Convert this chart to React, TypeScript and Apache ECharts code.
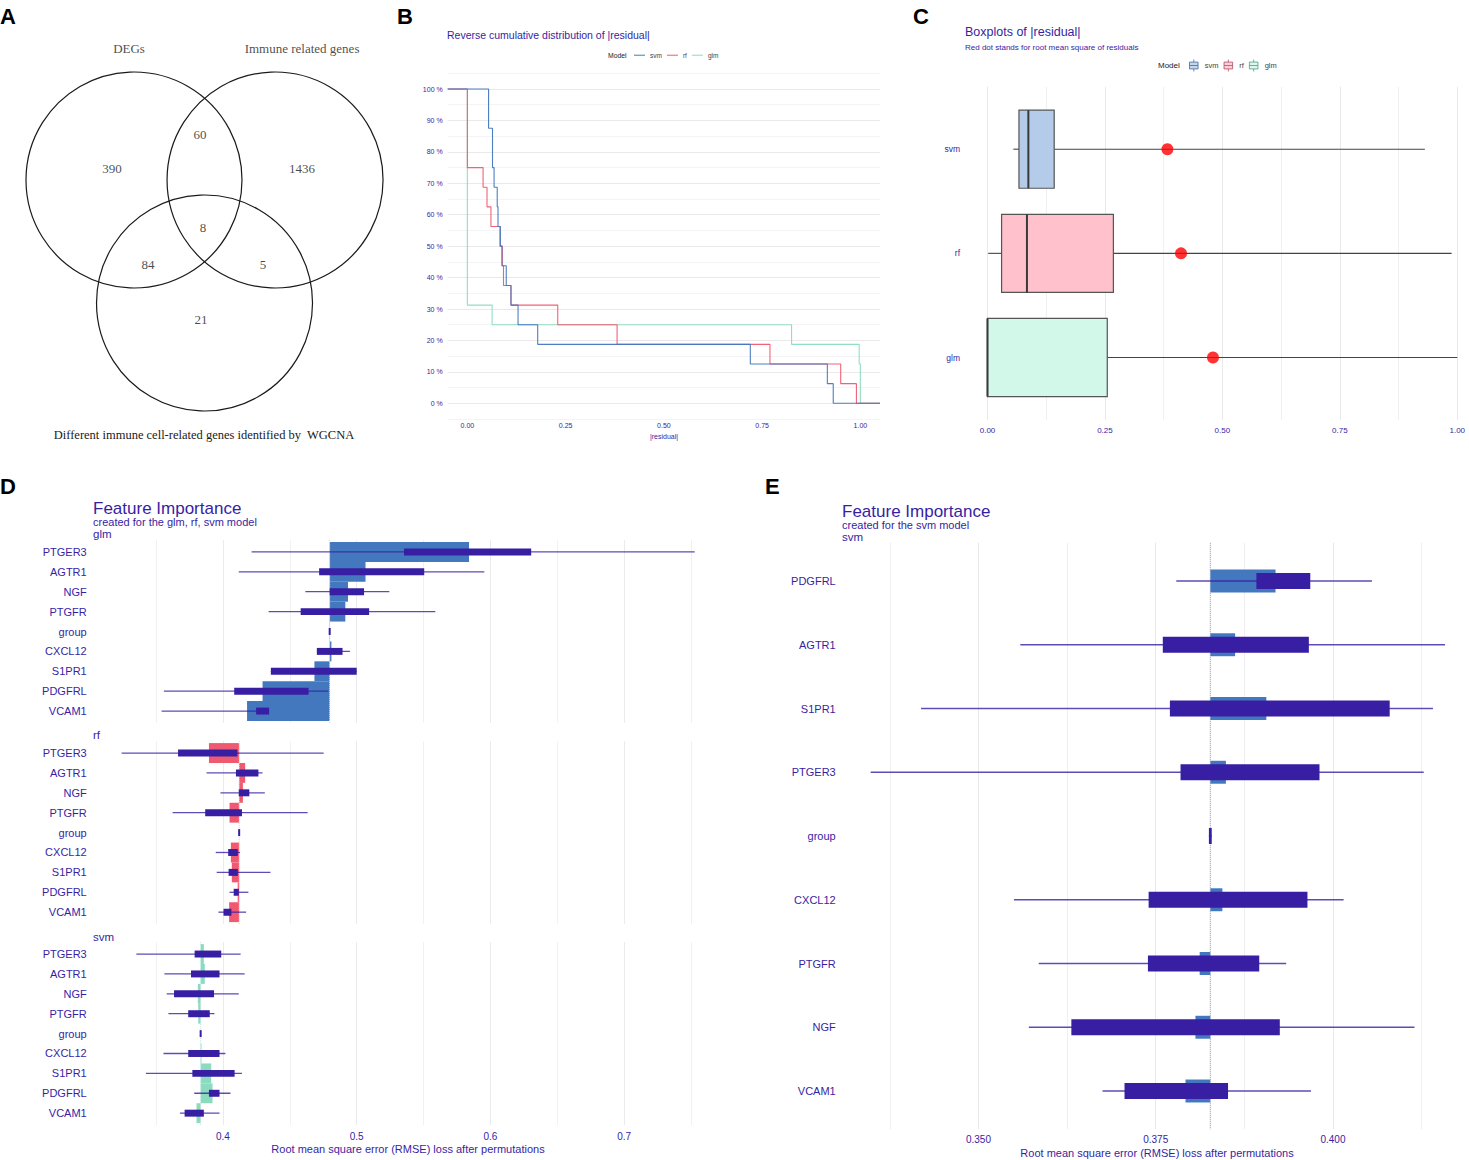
import React, { useEffect, useRef } from "react";
import * as echarts from "echarts";

const PURPLE = "#371ea3";
const SANS = '"Liberation Sans", Arial, Helvetica, sans-serif';
const SERIF = '"Liberation Serif", "Times New Roman", serif';
const T = "rgba(0,0,0,0)";

// ---------------- Panel A : Venn diagram ----------------
const vennSetNames = ["DEGs", "Immune related genes"];
const vennSetNameX = [-0.046, 1.556];
const vennSetNameY = [-1.222, -1.222];
const vennCircleX = [0, 1.306, 0.653];
const vennCircleY = [0, 0, 1.139];
const vennCircleR = [1, 1, 1];
const vennCounts = [390, 60, 1436, 8, 84, 5, 21];
const vennCountX = [-0.204, 0.611, 1.556, 0.639, 0.13, 1.194, 0.62];
const vennCountY = [-0.111, -0.417, -0.111, 0.444, 0.778, 0.778, 1.296];

// ---------------- Panel B : reverse ECDF ----------------
const models = ["svm", "rf", "glm"];
const modelColors = ["#4378bf", "#f05a71", "#8bdcbe"];
const ecdfSvmX = [-0.05, 0.054, 0.064, 0.068, 0.076, 0.078, 0.084, 0.088, 0.099, 0.111, 0.129, 0.179, 0.72, 0.916, 0.931, 1.05];
const ecdfSvmY = [100, 87.5, 75, 68.75, 62.5, 56.25, 50, 43.75, 37.5, 31.25, 25, 18.75, 12.5, 6.25, 0, 0];
const ecdfRfX = [-0.05, 0, 0.04, 0.05, 0.06, 0.083, 0.089, 0.092, 0.111, 0.23, 0.381, 0.77, 0.95, 0.99, 1.05];
const ecdfRfY = [100, 75, 68.75, 62.5, 56.25, 50, 43.75, 37.5, 31.25, 25, 18.75, 12.5, 6.25, 0, 0];
const ecdfGlmX = [-0.05, 0, 0.063, 0.825, 0.997, 1.0, 1.05];
const ecdfGlmY = [100, 31.25, 25, 18.75, 12.5, 0, 0];

// ---------------- Panel C : boxplots of |residual| ----------------
const boxMin = [0.055, 0.0015, 0];
const boxQ1 = [0.067, 0.03, 0];
const boxMed = [0.087, 0.084, 0];
const boxQ3 = [0.142, 0.268, 0.255];
const boxMax = [0.931, 0.988, 1.0];
const rmse = [0.383, 0.412, 0.48];
const boxFills = ["#b5cbea", "#ffc1cb", "#d2f8ea"];
const legendBorders = ["#4a6a9a", "#b0506a", "#4f9c82"];

// ---------------- Panel D : feature importance (3 models) ----------------
const dVars = ["PTGER3", "AGTR1", "NGF", "PTGFR", "group", "CXCL12", "S1PR1", "PDGFRL", "VCAM1"];
const glmBase = 0.4798;
const glmMean = [0.584, 0.5066, 0.4935, 0.4915, 0.48, 0.4811, 0.4684, 0.4296, 0.418];
const glmQ1 = [0.5354, 0.4719, 0.4798, 0.4581, 0.4796, 0.4702, 0.4358, 0.4084, 0.4248];
const glmQ3 = [0.6305, 0.5505, 0.5055, 0.5093, 0.48, 0.4894, 0.5, 0.464, 0.4345];
const glmMin = [0.4214, 0.4118, 0.4616, 0.4341, 0.4796, 0.4702, 0.4358, 0.3558, 0.3541];
const glmMax = [0.7528, 0.5955, 0.5244, 0.5588, 0.48, 0.4949, 0.5, 0.4788, 0.4345];

const rfBase = 0.4121;
const rfMean = [0.3895, 0.4166, 0.4149, 0.4049, 0.4121, 0.4059, 0.4066, 0.411, 0.4046];
const rfQ1 = [0.3664, 0.4097, 0.4118, 0.3867, 0.4119, 0.4039, 0.4042, 0.408, 0.4004];
const rfQ3 = [0.4108, 0.4265, 0.4197, 0.4142, 0.4123, 0.4111, 0.4111, 0.4118, 0.4063];
const rfMin = [0.3242, 0.3877, 0.3981, 0.3623, 0.4119, 0.3946, 0.3953, 0.4049, 0.3966];
const rfMax = [0.4753, 0.4296, 0.4313, 0.4633, 0.4123, 0.4128, 0.4355, 0.419, 0.4173];

const svmBase = 0.3833;
const svmMean = [0.3857, 0.3864, 0.3812, 0.3815, 0.3833, 0.3839, 0.3912, 0.3922, 0.3802];
const svmQ1 = [0.3788, 0.3761, 0.3634, 0.374, 0.3831, 0.374, 0.3771, 0.3895, 0.3713];
const svmQ3 = [0.3987, 0.3974, 0.3933, 0.3901, 0.3835, 0.3974, 0.4087, 0.3974, 0.3857];
const svmMin = [0.3352, 0.3562, 0.3579, 0.3592, 0.3831, 0.3555, 0.3424, 0.3785, 0.3678];
const svmMax = [0.4132, 0.4162, 0.4118, 0.3936, 0.3835, 0.4018, 0.4142, 0.4056, 0.3974];

// ---------------- Panel E : feature importance (svm) ----------------
const eVars = ["PDGFRL", "AGTR1", "S1PR1", "PTGER3", "group", "CXCL12", "PTGFR", "NGF", "VCAM1"];
const eBase = 0.3827;
const eMean = [0.3919, 0.3862, 0.3906, 0.3849, 0.3827, 0.3844, 0.3812, 0.3806, 0.3792];
const eQ1 = [0.3892, 0.376, 0.377, 0.3785, 0.3825, 0.374, 0.3739, 0.3631, 0.3706];
const eQ3 = [0.3968, 0.3966, 0.408, 0.3981, 0.3829, 0.3964, 0.3896, 0.3925, 0.3852];
const eMin = [0.3779, 0.3559, 0.3419, 0.3348, 0.3825, 0.355, 0.3585, 0.3571, 0.3675];
const eMax = [0.4055, 0.4158, 0.4141, 0.4128, 0.3829, 0.4015, 0.3934, 0.4115, 0.3969];

// ---------------- helpers ----------------
function catFormatter(names: string[]) {
  return (v: number) => {
    const r = Math.round(v);
    return Math.abs(v - r) < 1e-6 && r >= 0 && r < names.length ? names[r] : "";
  };
}
function stepFormatter(step: number, lo: number, hi: number, digits: number, suffix = "") {
  return (v: number) => {
    const q = v / step;
    const r = Math.round(q);
    if (Math.abs(q - r) < 1e-6) {
      const val = r * step;
      if (val >= lo - 1e-9 && val <= hi + 1e-9) return val.toFixed(digits) + suffix;
    }
    return "";
  };
}

function txt(x: number, y: number, text: string, size: number, fill: string, opts: any = {}) {
  const align = opts.align || "left";
  return {
    type: "text",
    x,
    y,
    silent: true,
    style: {
      text,
      fontSize: size,
      fontFamily: opts.family || SANS,
      fontWeight: opts.weight || "normal",
      fill,
      textAlign: align,
      align,
      textVerticalAlign: "middle",
      verticalAlign: "middle",
    },
  };
}

function fiSeries(
  axisIdx: number,
  n: number,
  mean: number[],
  q1: number[],
  q3: number[],
  mn: number[],
  mx: number[],
  base: number,
  color: string,
  barFrac: number,
  boxFrac: number,
  whiskerW: number,
  baseColor: string
) {
  const data = mean.map((m, i) => [m, i, q1[i], q3[i], mn[i], mx[i]]);
  return [
    {
      type: "custom",
      xAxisIndex: axisIdx,
      yAxisIndex: axisIdx,
      data,
      encode: { x: 0, y: 1 },
      z: 2,
      silent: true,
      renderItem: (_p: any, api: any) => {
        const i = api.value(1);
        const p0 = api.coord([base, i]);
        const p1 = api.coord([api.value(0), i]);
        const h = api.size([0, 1])[1] * barFrac;
        return {
          type: "rect",
          shape: {
            x: Math.min(p0[0], p1[0]),
            y: p0[1] - h / 2,
            width: Math.max(Math.abs(p1[0] - p0[0]), 0.01),
            height: h,
          },
          style: { fill: color },
        };
      },
    },
    {
      type: "line",
      xAxisIndex: axisIdx,
      yAxisIndex: axisIdx,
      data: [
        [base, -0.6],
        [base, n - 0.4],
      ],
      symbol: "none",
      silent: true,
      z: 3,
      lineStyle: { type: "dotted", color: baseColor, width: 1 },
    },
    {
      type: "custom",
      xAxisIndex: axisIdx,
      yAxisIndex: axisIdx,
      data,
      encode: { x: [2, 3, 4, 5], y: 1 },
      z: 4,
      silent: true,
      renderItem: (_p: any, api: any) => {
        const i = api.value(1);
        const a = api.coord([api.value(2), i]);
        const b = api.coord([api.value(3), i]);
        const lo = api.coord([api.value(4), i]);
        const hi = api.coord([api.value(5), i]);
        const h = api.size([0, 1])[1] * boxFrac;
        const raw = b[0] - a[0];
        const w = Math.max(raw, 2);
        return {
          type: "group",
          children: [
            {
              type: "line",
              shape: { x1: lo[0], y1: lo[1], x2: hi[0], y2: hi[1] },
              style: { stroke: PURPLE, lineWidth: whiskerW, opacity: 0.8 },
            },
            {
              type: "rect",
              shape: { x: a[0] - (w - raw) / 2, y: a[1] - h / 2, width: w, height: h },
              style: { fill: PURPLE },
            },
          ],
        };
      },
    },
  ];
}

function buildOption() {
  const grids = [
    { left: 0, top: 0, width: 400, height: 450 }, // A
    { left: 447.7, top: 73.3, width: 432.3, height: 345.7 }, // B
    { left: 964, top: 86.7, width: 505, height: 333.3 }, // C
    { left: 122.7, top: 540, width: 601.7, height: 183 }, // D glm
    { left: 122.7, top: 741.1, width: 601.7, height: 183 }, // D rf
    { left: 122.7, top: 942.1, width: 601.7, height: 183 }, // D svm
    { left: 867.7, top: 542.75, width: 598.2, height: 586.5 }, // E
  ].map((g) => ({ ...g, containLabel: false, outerBoundsMode: "none", show: false }));

  const noAxis = { axisLine: { show: false }, axisTick: { show: false } };
  const dX = (idx: number, showLabels: boolean) => ({
    gridIndex: idx,
    type: "value",
    min: 0.325,
    max: 0.775,
    interval: 0.025,
    ...noAxis,
    axisLabel: {
      show: showLabels,
      formatter: stepFormatter(0.1, 0.4, 0.7, 1),
      fontSize: 10,
      color: PURPLE,
      margin: 6,
      fontFamily: SANS,
    },
    splitLine: { show: true, lineStyle: { color: [T, "#f1f1f3", T, "#ebebee"], width: 1 } },
  });
  const dY = (idx: number) => ({
    gridIndex: idx,
    type: "value",
    min: -0.6,
    max: 8.6,
    interval: 0.2,
    inverse: true,
    ...noAxis,
    splitLine: { show: false },
    axisLabel: { formatter: catFormatter(dVars), fontSize: 11, color: PURPLE, margin: 36, fontFamily: SANS },
  });

  const xAxis: any[] = [
    { gridIndex: 0, type: "value", min: -1.2407, max: 2.463, show: false },
    {
      gridIndex: 1,
      type: "value",
      min: -0.05,
      max: 1.05,
      interval: 0.05,
      ...noAxis,
      splitLine: { show: false },
      axisLabel: { formatter: stepFormatter(0.25, 0, 1, 2), fontSize: 7, color: PURPLE, margin: 3, fontFamily: SANS },
    },
    {
      gridIndex: 2,
      type: "value",
      min: -0.05,
      max: 1.025,
      interval: 0.025,
      ...noAxis,
      splitLine: {
        show: true,
        lineStyle: { color: [T, T, "#e9e9e9", T, T, T, T, "#f0f0f0", T, T], width: 1 },
      },
      axisLabel: { formatter: stepFormatter(0.25, 0, 1, 2), fontSize: 8, color: PURPLE, margin: 6, fontFamily: SANS },
    },
    dX(3, false),
    dX(4, false),
    dX(5, true),
    {
      gridIndex: 6,
      type: "value",
      min: 0.334375,
      max: 0.41875,
      interval: 0.003125,
      ...noAxis,
      splitLine: {
        show: true,
        lineStyle: { color: [T, "#efeff2", T, T, T, "#e8e8ec", T, T], width: 1 },
      },
      axisLabel: { formatter: stepFormatter(0.025, 0.35, 0.4, 3), fontSize: 10, color: PURPLE, margin: 5, fontFamily: SANS },
    },
  ];

  const yAxis: any[] = [
    { gridIndex: 0, type: "value", min: -1.6667, max: 2.5, inverse: true, show: false },
    {
      gridIndex: 1,
      type: "value",
      min: -5,
      max: 105,
      interval: 5,
      ...noAxis,
      splitLine: { show: true, lineStyle: { color: ["#f4f4f4", "#e9e9e9"], width: 1 } },
      axisLabel: { formatter: stepFormatter(10, 0, 100, 0, " %"), fontSize: 7, color: PURPLE, margin: 5, fontFamily: SANS },
    },
    {
      gridIndex: 2,
      type: "value",
      min: -0.6,
      max: 2.6,
      interval: 0.2,
      inverse: true,
      ...noAxis,
      splitLine: { show: false },
      axisLabel: { formatter: catFormatter(models), fontSize: 8.5, color: PURPLE, margin: 4, fontFamily: SANS },
    },
    dY(3),
    dY(4),
    dY(5),
    {
      gridIndex: 6,
      type: "value",
      min: -0.6,
      max: 8.6,
      interval: 0.2,
      inverse: true,
      ...noAxis,
      splitLine: { show: false },
      axisLabel: { formatter: catFormatter(eVars), fontSize: 11, color: PURPLE, margin: 32, fontFamily: SANS },
    },
  ];

  const series: any[] = [];

  const vennLabel = {
    show: true,
    position: "inside",
    formatter: "{b}",
    fontFamily: SERIF,
    fontSize: 13,
    color: "#1a1a1a",
    textBorderWidth: 0,
    textBorderColor: T,
    textShadowBlur: 0,
  };

  // A: circles
  series.push({
    type: "custom",
    xAxisIndex: 0,
    yAxisIndex: 0,
    silent: true,
    data: vennCircleX.map((x, i) => [x, vennCircleY[i], vennCircleR[i]]),
    encode: { x: 0, y: 1 },
    renderItem: (_p: any, api: any) => {
      const c = api.coord([api.value(0), api.value(1)]);
      const r = api.size([api.value(2), 0])[0];
      return {
        type: "circle",
        shape: { cx: c[0], cy: c[1], r },
        style: { fill: "none", stroke: "#1a1a1a", lineWidth: 1.2 },
      };
    },
  });
  // A: count labels
  series.push({
    type: "scatter",
    xAxisIndex: 0,
    yAxisIndex: 0,
    silent: true,
    symbolSize: 1,
    itemStyle: { color: T },
    data: vennCounts.map((c, i) => ({ name: String(c), value: [vennCountX[i], vennCountY[i]] })),
    label: vennLabel,
  });
  // A: set names
  series.push({
    type: "scatter",
    xAxisIndex: 0,
    yAxisIndex: 0,
    silent: true,
    symbolSize: 1,
    itemStyle: { color: T },
    data: vennSetNames.map((s, i) => ({ name: s, value: [vennSetNameX[i], vennSetNameY[i]] })),
    label: vennLabel,
  });

  // B: reverse ecdf lines
  const ecdf = [
    [ecdfSvmX, ecdfSvmY],
    [ecdfRfX, ecdfRfY],
    [ecdfGlmX, ecdfGlmY],
  ];
  ecdf.forEach(([xs, ys], k) => {
    series.push({
      type: "line",
      name: models[k],
      xAxisIndex: 1,
      yAxisIndex: 1,
      step: "end",
      symbol: "none",
      silent: true,
      z: 5 - k,
      itemStyle: { color: modelColors[k] },
      lineStyle: { color: modelColors[k], width: 1.1, opacity: 0.95 },
      data: xs.map((x, i) => [x, ys[i]]),
    });
  });

  // C: boxplots
  series.push({
    type: "custom",
    xAxisIndex: 2,
    yAxisIndex: 2,
    silent: true,
    z: 2,
    data: models.map((_m, i) => [i, boxMin[i], boxQ1[i], boxMed[i], boxQ3[i], boxMax[i]]),
    encode: { x: [1, 2, 3, 4, 5], y: 0 },
    renderItem: (_p: any, api: any) => {
      const i = api.value(0);
      const y = api.coord([0, i])[1];
      const X = (d: number) => api.coord([api.value(d), i])[0];
      const h = api.size([0, 1])[1] * 0.75;
      const fill = boxFills[Math.round(i)];
      return {
        type: "group",
        children: [
          { type: "line", shape: { x1: X(1), y1: y, x2: X(2), y2: y }, style: { stroke: "#444", lineWidth: 1.1 } },
          { type: "line", shape: { x1: X(4), y1: y, x2: X(5), y2: y }, style: { stroke: "#444", lineWidth: 1.1 } },
          {
            type: "rect",
            shape: { x: X(2), y: y - h / 2, width: Math.max(X(4) - X(2), 0.5), height: h },
            style: { fill, stroke: "#555", lineWidth: 1.2 },
          },
          {
            type: "line",
            shape: { x1: X(3), y1: y - h / 2, x2: X(3), y2: y + h / 2 },
            style: { stroke: "#3a3a3a", lineWidth: 2 },
          },
        ],
      };
    },
  });
  series.push({
    type: "scatter",
    xAxisIndex: 2,
    yAxisIndex: 2,
    silent: true,
    z: 6,
    symbolSize: 12,
    itemStyle: { color: "#ff0000" },
    data: models.map((_m, i) => [rmse[i], i]),
  });
  // C: legend holders
  models.forEach((m, k) => {
    series.push({
      type: "scatter",
      name: "C " + m,
      xAxisIndex: 2,
      yAxisIndex: 2,
      data: [],
      itemStyle: { color: boxFills[k], borderColor: legendBorders[k], borderWidth: 1 },
    });
  });

  // D facets
  series.push(...fiSeries(3, dVars.length, glmMean, glmQ1, glmQ3, glmMin, glmMax, glmBase, "#4378bf", 1.0, 0.35, 1.3, "#c9d3ee"));
  series.push(...fiSeries(4, dVars.length, rfMean, rfQ1, rfQ3, rfMin, rfMax, rfBase, "#f05a71", 1.0, 0.35, 1.3, "#e3c8e0"));
  series.push(...fiSeries(5, dVars.length, svmMean, svmQ1, svmQ3, svmMin, svmMax, svmBase, "#8bdcbe", 1.0, 0.35, 1.3, "#c4e6dc"));
  // E
  series.push(...fiSeries(6, eVars.length, eMean, eQ1, eQ3, eMin, eMax, eBase, "#4378bf", 0.36, 0.25, 1.6, "#8f8fa6"));

  const legend = [
    {
      left: 634,
      top: 51.7,
      padding: 0,
      orient: "horizontal",
      selectedMode: false,
      icon: "rect",
      itemWidth: 11,
      itemHeight: 1,
      itemGap: 5,
      textStyle: { fontSize: 6.5, color: "#444", fontFamily: SANS },
      data: models.map((m, k) => ({ name: m, itemStyle: { color: modelColors[k] } })),
    },
    {
      left: 1189,
      top: 59,
      padding: 0,
      orient: "horizontal",
      selectedMode: false,
      icon: "path://M1,3 L11,3 L11,11 L1,11 Z M1,7 L11,7 M6,0 L6,3 M6,11 L6,14",
      itemWidth: 12,
      itemHeight: 12,
      itemGap: 5,
      formatter: (name: string) => name.replace(/^C /, ""),
      textStyle: { fontSize: 7.5, color: "#444", fontFamily: SANS },
      data: models.map((m, k) => ({
        name: "C " + m,
        itemStyle: { color: boxFills[k], borderColor: legendBorders[k], borderWidth: 1 },
      })),
    },
  ];

  const graphic = [
    // panel letters
    txt(0, 16, "A", 22, "#000", { weight: "bold" }),
    txt(397, 16, "B", 22, "#000", { weight: "bold" }),
    txt(913, 16, "C", 22, "#000", { weight: "bold" }),
    txt(0, 486, "D", 22, "#000", { weight: "bold" }),
    txt(765, 486, "E", 22, "#000", { weight: "bold" }),
    // A caption
    txt(204, 435, "Different immune cell-related genes identified by  WGCNA", 12.5, "#1a1a1a", { align: "center", family: SERIF }),
    // B
    txt(447, 35, "Reverse cumulative distribution of |residual|", 10.5, PURPLE),
    txt(608, 55.7, "Model", 6.8, "#222"),
    txt(664, 436, "|residual|", 7, PURPLE, { align: "center" }),
    // C
    txt(965, 31.7, "Boxplots of |residual|", 12.5, PURPLE),
    txt(965, 47.3, "Red dot stands for root mean square of residuals", 8, PURPLE),
    txt(1158, 65, "Model", 8, "#222"),
    // D
    txt(93, 508, "Feature Importance", 17, PURPLE),
    txt(93, 522, "created for the glm, rf, svm model", 11, PURPLE),
    txt(93, 534, "glm", 11.5, PURPLE),
    txt(93, 735, "rf", 11.5, PURPLE),
    txt(93, 937, "svm", 11.5, PURPLE),
    txt(408, 1149, "Root mean square error (RMSE) loss after permutations", 11, PURPLE, { align: "center" }),
    // E
    txt(842, 511, "Feature Importance", 17, PURPLE),
    txt(842, 525, "created for the svm model", 11, PURPLE),
    txt(842, 537, "svm", 11.5, PURPLE),
    txt(1157, 1153, "Root mean square error (RMSE) loss after permutations", 11, PURPLE, { align: "center" }),
  ];

  return {
    animation: false,
    backgroundColor: "#ffffff",
    textStyle: { fontFamily: SANS },
    grid: grids,
    xAxis,
    yAxis,
    legend,
    graphic,
    series,
  };
}

export default function App() {
  const ref = useRef<HTMLDivElement>(null);
  useEffect(() => {
    if (!ref.current) return;
    const chart = echarts.init(ref.current, null, { renderer: "svg" });
    chart.setOption(buildOption() as any);
    return () => chart.dispose();
  }, []);
  return (
    <div
      ref={ref}
      style={{ position: "absolute", left: 0, top: 0, width: 1469, height: 1160, background: "#fff" }}
    />
  );
}
